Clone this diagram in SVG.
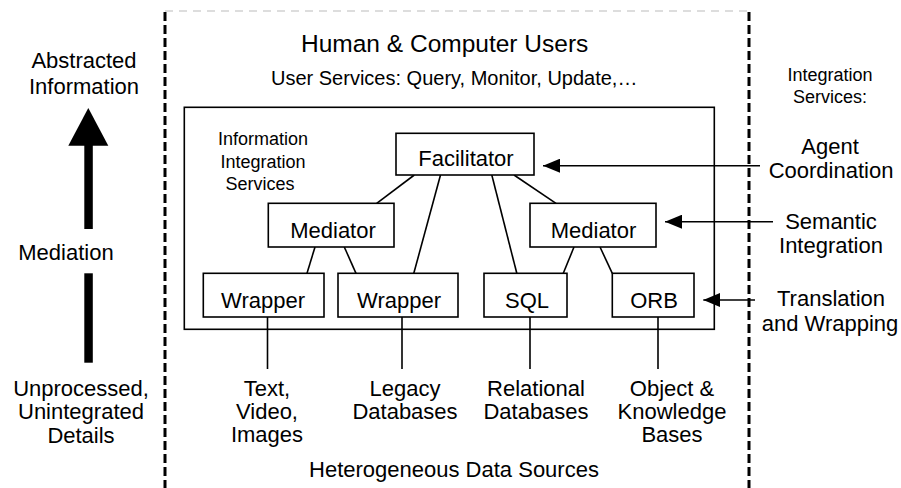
<svg xmlns="http://www.w3.org/2000/svg" width="901" height="488" viewBox="0 0 901 488">
<style>
text { font-family: "Liberation Sans", Arial, sans-serif; fill: #000; }
.t22 { font-size: 22px; }
.t18 { font-size: 18px; }
.mid { text-anchor: middle; }
.box { fill: #fff; stroke: #000; stroke-width: 1.6; }
.ln { stroke: #000; stroke-width: 1.6; fill: none; }
.dash { stroke: #000; stroke-width: 3; stroke-dasharray: 9 4; fill: none; }
</style>
<defs>
<marker id="ah" markerUnits="userSpaceOnUse" markerWidth="18" markerHeight="14" refX="17" refY="7" orient="auto">
<path d="M0,0 L17,7 L0,14 z" fill="#000"/>
</marker>
<clipPath id="clipUS"><rect x="0" y="0" width="901" height="89"/></clipPath>
</defs>

<!-- frame -->
<g id="frame">
<line x1="165" y1="11" x2="749" y2="11" stroke="#bbb" stroke-width="1" stroke-dasharray="8 6"/>
<line class="dash" x1="165" y1="12" x2="165" y2="488"/>
<line class="dash" x1="749" y1="12" x2="749" y2="488"/>
</g>

<!-- left mediation arrow -->
<g id="mediation-arrow">
<polygon points="88.3,108 68.3,145.7 108.3,145.7" fill="#000"/>
<rect x="84.3" y="145" width="8.5" height="84" fill="#000"/>
<rect x="84.3" y="273.3" width="8.5" height="89.4" fill="#000"/>
<text class="t22 mid" x="84" y="68">Abstracted</text>
<text class="t22 mid" x="84" y="94">Information</text>
<text class="t22 mid" x="66" y="260">Mediation</text>
<text class="t22 mid" x="81" y="396">Unprocessed,</text>
<text class="t22 mid" x="81" y="419">Unintegrated</text>
<text class="t22 mid" x="81" y="443">Details</text>
</g>

<!-- header -->
<g id="users">
<text x="301" y="52" font-size="24.5">Human &amp; Computer Users</text>
<text x="271" y="85" font-size="20" clip-path="url(#clipUS)">User Services: Query, Monitor, Update,…</text>
</g>

<!-- inner integration box -->
<g id="integration-box">
<rect class="box" x="184.3" y="107.3" width="530" height="222"/>
<text class="t18 mid" x="263" y="145">Information</text>
<text class="t18 mid" x="263" y="168">Integration</text>
<text class="t18 mid" x="260" y="190">Services</text>
</g>

<!-- connectors -->
<g id="connectors">
<line class="ln" x1="414.3" y1="175" x2="376.7" y2="203.3"/>
<line class="ln" x1="440.5" y1="175" x2="413.8" y2="273.3"/>
<line class="ln" x1="491.8" y1="175" x2="516.8" y2="273.3"/>
<line class="ln" x1="514" y1="175" x2="556" y2="203.3"/>
<line class="ln" x1="315" y1="247" x2="307" y2="273.3"/>
<line class="ln" x1="344.3" y1="247" x2="356" y2="273.3"/>
<line class="ln" x1="574" y1="247" x2="563.3" y2="273.3"/>
<line class="ln" x1="600" y1="247" x2="612.3" y2="273.3"/>
<line class="ln" x1="267.5" y1="317" x2="267.5" y2="369"/>
<line class="ln" x1="402" y1="317" x2="402" y2="369"/>
<line class="ln" x1="530" y1="317" x2="530" y2="369"/>
<line class="ln" x1="658" y1="317" x2="658" y2="369"/>
<line class="ln" x1="760" y1="165.7" x2="543" y2="165.7" marker-end="url(#ah)"/>
<line class="ln" x1="773" y1="221.7" x2="665" y2="221.7" marker-end="url(#ah)"/>
<line class="ln" x1="755" y1="300" x2="703.3" y2="300" marker-end="url(#ah)"/>
</g>

<!-- nodes -->
<g id="facilitator">
<rect class="box" x="396" y="133.3" width="138" height="41.7"/>
<text class="t22 mid" x="466" y="166">Facilitator</text>
</g>
<g id="mediator-left">
<rect class="box" x="268.3" y="203.3" width="125.7" height="43.7"/>
<text class="t22 mid" x="333" y="237.5">Mediator</text>
</g>
<g id="mediator-right">
<rect class="box" x="530" y="203.3" width="126" height="43.7"/>
<text class="t22 mid" x="593.5" y="237.5">Mediator</text>
</g>
<g id="wrapper-1">
<rect class="box" x="203.3" y="273.3" width="120.7" height="43.7"/>
<text class="t22 mid" x="263" y="307.5">Wrapper</text>
</g>
<g id="wrapper-2">
<rect class="box" x="338" y="273.3" width="120" height="43.7"/>
<text class="t22 mid" x="399" y="307.5">Wrapper</text>
</g>
<g id="sql">
<rect class="box" x="484" y="273.3" width="83" height="43.7"/>
<text class="t22 mid" x="527" y="307.5">SQL</text>
</g>
<g id="orb">
<rect class="box" x="612.3" y="273.3" width="81.7" height="43.7"/>
<text class="t22 mid" x="654" y="307.5">ORB</text>
</g>

<!-- data sources -->
<g id="sources">
<text class="t22 mid" x="267" y="396">Text,</text>
<text class="t22 mid" x="267" y="419">Video,</text>
<text class="t22 mid" x="267" y="442">Images</text>
<text class="t22 mid" x="405" y="396">Legacy</text>
<text class="t22 mid" x="405" y="419">Databases</text>
<text class="t22 mid" x="536" y="396">Relational</text>
<text class="t22 mid" x="536" y="419">Databases</text>
<text class="t22 mid" x="672" y="396">Object &amp;</text>
<text class="t22 mid" x="672" y="419">Knowledge</text>
<text class="t22 mid" x="672" y="442">Bases</text>
<text class="t22 mid" x="454" y="477">Heterogeneous Data Sources</text>
</g>

<!-- right labels -->
<g id="integration-services">
<text class="t18 mid" x="830" y="81">Integration</text>
<text class="t18 mid" x="830" y="103">Services:</text>
<text class="t22 mid" x="830" y="154">Agent</text>
<text class="t22 mid" x="831" y="178">Coordination</text>
<text class="t22 mid" x="831" y="229">Semantic</text>
<text class="t22 mid" x="831" y="253">Integration</text>
<text class="t22 mid" x="831" y="306">Translation</text>
<text class="t22 mid" x="830" y="331">and Wrapping</text>
</g>
</svg>
